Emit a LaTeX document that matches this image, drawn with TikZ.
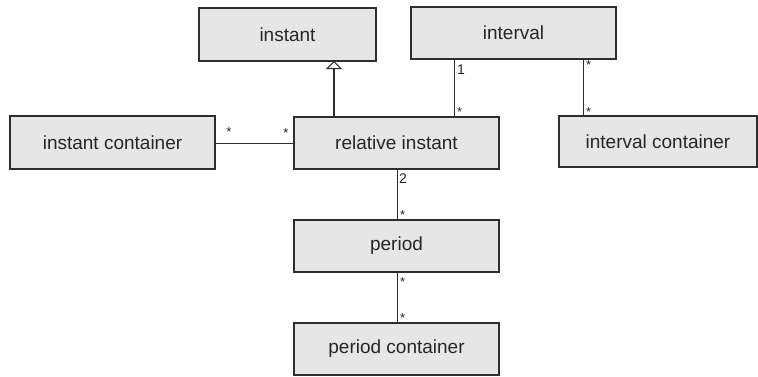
\documentclass[tikz,border=0pt]{standalone}
\usepackage{fontspec}
\setmainfont{Liberation Sans}
\usetikzlibrary{arrows.meta}
\definecolor{boxfill}{HTML}{E6E6E7}
\definecolor{edge}{HTML}{2E2E2E}
\begin{document}
\begin{tikzpicture}[x=1pt,y=-1pt,
  cls/.style={draw=edge,fill=boxfill,line width=1.2pt},
  clstext/.style={inner sep=0,font=\fontsize{19}{21}\selectfont,text=black!85},
  assoc/.style={draw=edge,line width=1pt},
  mult/.style={font=\fontsize{14}{15}\selectfont,inner sep=1pt,text=black!85},
  star/.style={font=\fontsize{13}{14}\selectfont,inner sep=1pt,text=black!85}]
\useasboundingbox (0,0) rectangle (758,376);
\newcommand{\clsbox}[6]{\path[cls] (#2,#3) rectangle (#4,#5); \node[clstext] (#1) at ({(#2+#4)/2},{(#3+#5)/2}) {#6};}
\clsbox{inst}{199}{8}{376}{61}{instant}
\clsbox{intv}{411}{7}{616}{59}{interval}
\clsbox{icont}{10}{116}{215}{169}{instant container}
\clsbox{rel}{294}{117}{499}{169}{relative instant}
\clsbox{ivcont}{559}{116}{757}{167}{interval container}
\clsbox{per}{294}{220}{499}{272}{period}
\clsbox{pcont}{294}{323}{499}{375}{period container}
% generalization
\coordinate (g1) at (334,117); \coordinate (g2) at (334,61);
\draw[assoc,line width=1.5pt,-{Triangle[open,width=16pt,length=8pt,line width=1pt]}] (g1) -- (g2);
% associations
\coordinate (a1) at (454,59); \coordinate (a2) at (454,117);
\draw[assoc] (a1) -- (a2);
\node[mult,anchor=west] at (456,70) {1};
\node[star,anchor=west] at (456,112) {*};
\coordinate (b1) at (583,59); \coordinate (b2) at (583,116);
\draw[assoc] (b1) -- (b2);
\node[star,anchor=west] at (585,65) {*};
\node[star,anchor=west] at (585,112) {*};
\coordinate (c1) at (215,143); \coordinate (c2) at (294,143);
\draw[assoc] (c1) -- (c2);
\node[star] at (229,132) {*};
\node[star] at (286,133) {*};
\coordinate (d1) at (397,169); \coordinate (d2) at (397,220);
\draw[assoc] (d1) -- (d2);
\node[mult,anchor=west] at (398,179) {2};
\node[star,anchor=west] at (399,215) {*};
\coordinate (e1) at (397,272); \coordinate (e2) at (397,323);
\draw[assoc] (e1) -- (e2);
\node[star,anchor=west] at (399,282) {*};
\node[star,anchor=west] at (399,318) {*};
\end{tikzpicture}
\end{document}
